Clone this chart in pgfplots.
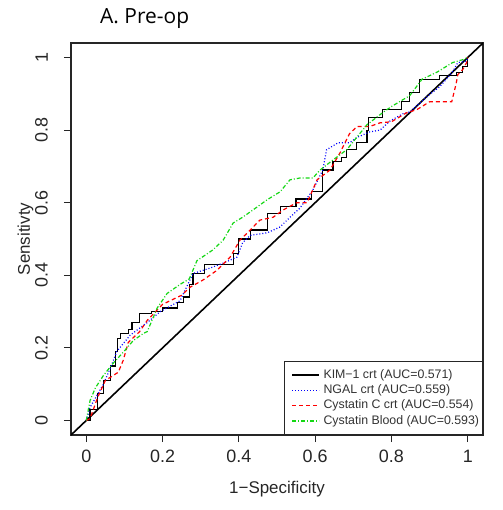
\documentclass[border=0pt]{standalone}
\usepackage{pgfplots}
\pgfplotsset{compat=1.18}
\usepackage{fontspec}
\setmainfont{Liberation Sans}
\newfontfamily\titlefont{Open Sans}
\definecolor{rgreen}{RGB}{20,215,20}
\begin{document}
\begin{tikzpicture}
\begin{axis}[
  name=ax,
  scale only axis, width=412bp, height=392bp,
  xmin=-0.04, xmax=1.04, ymin=-0.04, ymax=1.04,
  clip mode=individual,
  axis line style={line width=1.1bp, black!85},
  tick align=outside, major tick length=7bp,
  tick style={line width=0.9bp, black!85},
  xtick={0,0.2,0.4,0.6,0.8,1}, ytick={0,0.2,0.4,0.6,0.8,1},
  xticklabels={0,0.2,0.4,0.6,0.8,1}, yticklabels={0,0.2,0.4,0.6,0.8,1},
  xtick pos=bottom, ytick pos=left,
  /pgf/number format/assume math mode=true,
  ticklabel style={font=\fontsize{18}{20}\selectfont, text=black!85},
  xticklabel style={inner sep=0pt, anchor=north},
  yticklabel style={rotate=90, anchor=south, inner sep=0pt},
  xticklabel shift=8bp, yticklabel shift=16bp,
  legend style={at={(rel axis cs:1,0)}, anchor=south east, draw=black!85, line width=0.9bp,
    font=\fontsize{12.4}{14}\selectfont, text=black!80, inner xsep=0bp, inner ysep=6bp,
    nodes={text height=9.3bp, text depth=2.6bp, inner ysep=1.7bp, inner xsep=3.5bp},
    cells={anchor=west}},
  legend image code/.code={\path (0bp,0bp); \draw[#1, line width=1.3bp] (7bp,0bp) -- (34bp,0bp);},
]
\addplot[black, line width=1.6bp, forget plot] coordinates {(-0.04,-0.04) (1.04,1.04)};
\addplot[const plot, black, line width=1.2bp] coordinates {
(0,0) (0.01,0.03) (0.03,0.075) (0.045,0.11) (0.063,0.15) (0.076,0.19) (0.081,0.225)
(0.09,0.24) (0.11,0.25) (0.12,0.27) (0.14,0.295) (0.17,0.30) (0.20,0.31) (0.24,0.325)
(0.255,0.34) (0.27,0.375) (0.28,0.405) (0.31,0.43) (0.36,0.43) (0.385,0.46) (0.40,0.50)
(0.43,0.525) (0.455,0.525) (0.475,0.57) (0.51,0.59) (0.55,0.61) (0.59,0.63) (0.62,0.69)
(0.647,0.713) (0.67,0.724) (0.683,0.746) (0.709,0.765) (0.736,0.80) (0.74,0.834)
(0.777,0.856) (0.827,0.878) (0.848,0.903) (0.874,0.939) (0.92,0.939) (0.927,0.95)
(0.97,0.958) (0.987,0.975) (1,1)};
\addlegendentry{KIM−1 crt (AUC=0.571)}
\addplot[blue, line width=1.2bp, dash pattern=on 1bp off 2bp] coordinates {
(0,0) (0.01,0.036) (0.045,0.10) (0.068,0.157) (0.08,0.19) (0.115,0.235) (0.16,0.27)
(0.194,0.30) (0.246,0.33) (0.264,0.37) (0.28,0.405) (0.325,0.42) (0.36,0.434) (0.395,0.45)
(0.41,0.49) (0.43,0.51) (0.474,0.517) (0.508,0.533) (0.534,0.56) (0.56,0.585) (0.594,0.635)
(0.62,0.69) (0.63,0.746) (0.66,0.765) (0.69,0.765) (0.71,0.78) (0.743,0.795) (0.77,0.80)
(0.796,0.825) (0.83,0.845) (0.848,0.85) (0.90,0.898) (0.927,0.92) (0.96,0.96)
(0.974,0.986) (0.997,0.99) (1,1)};
\addlegendentry{NGAL crt (AUC=0.559)}
\addplot[red, line width=1.2bp, dash pattern=on 4bp off 3bp] coordinates {
(0,0) (0.01,0.005) (0.03,0.064) (0.05,0.11) (0.084,0.133) (0.097,0.166) (0.11,0.215)
(0.14,0.245) (0.16,0.276) (0.20,0.32) (0.25,0.345) (0.272,0.367) (0.306,0.387)
(0.343,0.414) (0.377,0.45) (0.403,0.497) (0.43,0.525) (0.455,0.552) (0.49,0.56)
(0.516,0.58) (0.552,0.60) (0.579,0.60) (0.605,0.663) (0.639,0.69) (0.665,0.737)
(0.69,0.79) (0.71,0.81) (0.743,0.81) (0.77,0.82) (0.80,0.823) (0.84,0.848) (0.866,0.856)
(0.90,0.878) (0.958,0.878) (0.97,0.93) (0.974,0.953) (0.987,0.967) (0.997,0.986) (1,1)};
\addlegendentry{Cystatin C crt (AUC=0.554)}
\addplot[rgreen, line width=1.2bp, dash pattern=on 4bp off 2bp on 1bp off 2bp] coordinates {
(0,0) (0.01,0.055) (0.024,0.09) (0.045,0.124) (0.07,0.157) (0.097,0.188) (0.123,0.22)
(0.15,0.24) (0.16,0.245) (0.186,0.31) (0.212,0.35) (0.246,0.375) (0.27,0.39) (0.29,0.44)
(0.332,0.47) (0.359,0.497) (0.385,0.544) (0.41,0.56) (0.437,0.58) (0.474,0.608)
(0.508,0.63) (0.534,0.663) (0.56,0.668) (0.594,0.668) (0.613,0.69) (0.647,0.718)
(0.683,0.746) (0.709,0.78) (0.736,0.815) (0.777,0.848) (0.80,0.865) (0.848,0.895)
(0.88,0.94) (0.92,0.96) (0.96,0.986) (0.987,0.994) (1,1)};
\addlegendentry{Cystatin Blood (AUC=0.593)}
\node[anchor=base, font=\fontsize{17}{19}\selectfont, text=black!85] at ([yshift=-58bp]rel axis cs:0.5,0) {1−Specificity};
\node[xshift=-41bp, rotate=90, anchor=base, font=\fontsize{17}{19}\selectfont, text=black!85] at (rel axis cs:0,0.5) {Sensitivty};
\node[anchor=base west, inner sep=0pt, font=\titlefont\fontsize{21}{23}\selectfont] at ([xshift=29bp,yshift=19bp]rel axis cs:0,1) {A. Pre-op};
\end{axis}
\path[use as bounding box] ([xshift=-71bp,yshift=-75bp]ax.south west) rectangle ++(503bp,510bp);
\end{tikzpicture}
\end{document}
